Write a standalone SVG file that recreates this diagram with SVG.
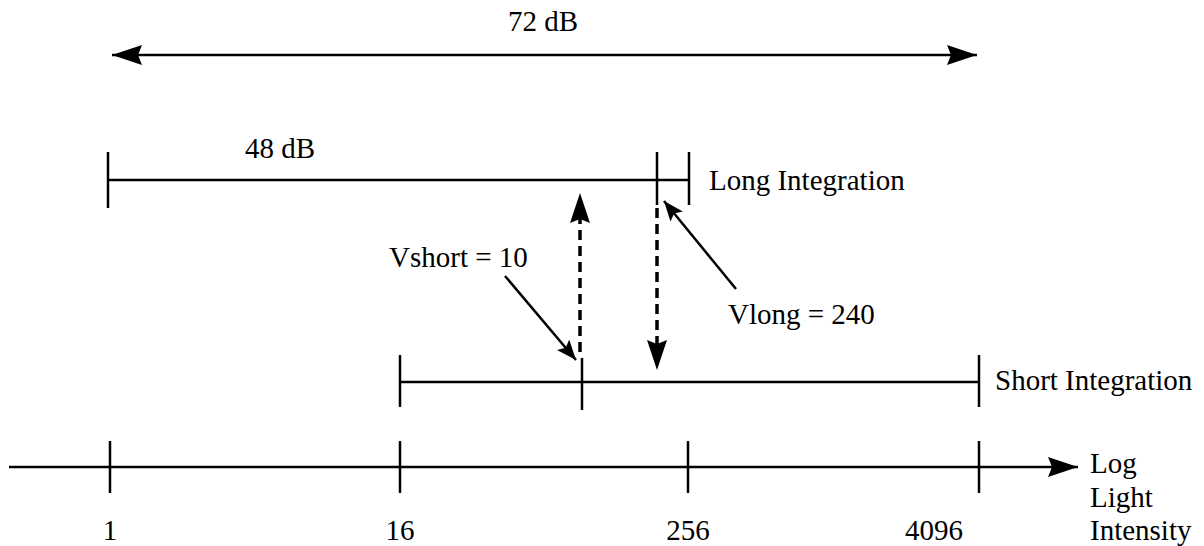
<svg xmlns="http://www.w3.org/2000/svg" width="1204" height="546" viewBox="0 0 1204 546">
<defs>
<style>
.ln{stroke:#000;stroke-width:2.5;fill:none}
.ds{stroke:#000;stroke-width:3.5;fill:none;stroke-dasharray:10 6}
.t{font-family:'Liberation Serif',serif;font-size:29px;fill:#000}
</style>
<marker id="ah" viewBox="0 0 30 20" refX="30" refY="10" markerWidth="30" markerHeight="20" markerUnits="userSpaceOnUse" orient="auto-start-reverse">
<path d="M0,0 L30,10 L0,20 L4,10 Z" fill="#000"/>
</marker>
<marker id="ahb" viewBox="0 0 30 20" refX="4" refY="10" markerWidth="30" markerHeight="20" markerUnits="userSpaceOnUse" orient="auto">
<path d="M0,0 L30,10 L0,20 L4,10 Z" fill="#000"/>
</marker>
<marker id="sa" viewBox="0 0 20 16" refX="20" refY="8" markerWidth="20" markerHeight="16" markerUnits="userSpaceOnUse" orient="auto">
<path d="M0,0 L20,8 L0,16 L4,8 Z" fill="#000"/>
</marker>
</defs>
<rect width="1204" height="546" fill="#fff"/>
<g id="connectors">
<line id="range72" class="ln" x1="112" y1="55" x2="977" y2="55" marker-start="url(#ah)" marker-end="url(#ah)"/>
<line id="vshort-up" class="ds" x1="580" y1="352" x2="580" y2="219" marker-end="url(#ahb)"/>
<line id="vlong-down" class="ds" x1="657" y1="208" x2="657" y2="344" marker-end="url(#ahb)"/>
<line id="vshort-ptr" class="ln" x1="505" y1="276" x2="576" y2="360" marker-end="url(#sa)"/>
<line id="vlong-ptr" class="ln" x1="736" y1="289" x2="664" y2="201" marker-end="url(#sa)"/>
<line id="axis" class="ln" x1="9" y1="467" x2="1078" y2="467" marker-end="url(#ah)"/>
</g>
<g id="top-range">
<text class="t" x="543" y="31" text-anchor="middle">72 dB</text>
</g>
<g id="long-integration">
<line class="ln" x1="108" y1="180" x2="689" y2="180"/>
<line class="ln" x1="108" y1="152" x2="108" y2="208"/>
<line class="ln" x1="657" y1="152" x2="657" y2="205"/>
<line class="ln" x1="689" y1="152" x2="689" y2="205"/>
<text class="t" x="245" y="158">48 dB</text>
<text class="t" x="709" y="190">Long Integration</text>
</g>
<g id="vshort-label">
<text class="t" x="389" y="267">Vshort = 10</text>
</g>
<g id="vlong-label">
<text class="t" x="728" y="324">Vlong = 240</text>
</g>
<g id="short-integration">
<line class="ln" x1="400" y1="382" x2="979" y2="382"/>
<line class="ln" x1="400" y1="355" x2="400" y2="407"/>
<line class="ln" x1="582" y1="358" x2="582" y2="410"/>
<line class="ln" x1="979" y1="355" x2="979" y2="407"/>
<text class="t" x="995" y="390">Short Integration</text>
</g>
<g id="axis-ticks">
<line class="ln" x1="110" y1="441" x2="110" y2="493"/>
<line class="ln" x1="400" y1="441" x2="400" y2="493"/>
<line class="ln" x1="688" y1="441" x2="688" y2="493"/>
<line class="ln" x1="979" y1="441" x2="979" y2="493"/>
<text class="t" x="110" y="540" text-anchor="middle">1</text>
<text class="t" x="400" y="540" text-anchor="middle">16</text>
<text class="t" x="688" y="540" text-anchor="middle">256</text>
<text class="t" x="905" y="540">4096</text>
</g>
<g id="axis-label">
<text class="t" x="1090" y="473">Log</text>
<text class="t" x="1090" y="507">Light</text>
<text class="t" x="1090" y="540">Intensity</text>
</g>
</svg>
